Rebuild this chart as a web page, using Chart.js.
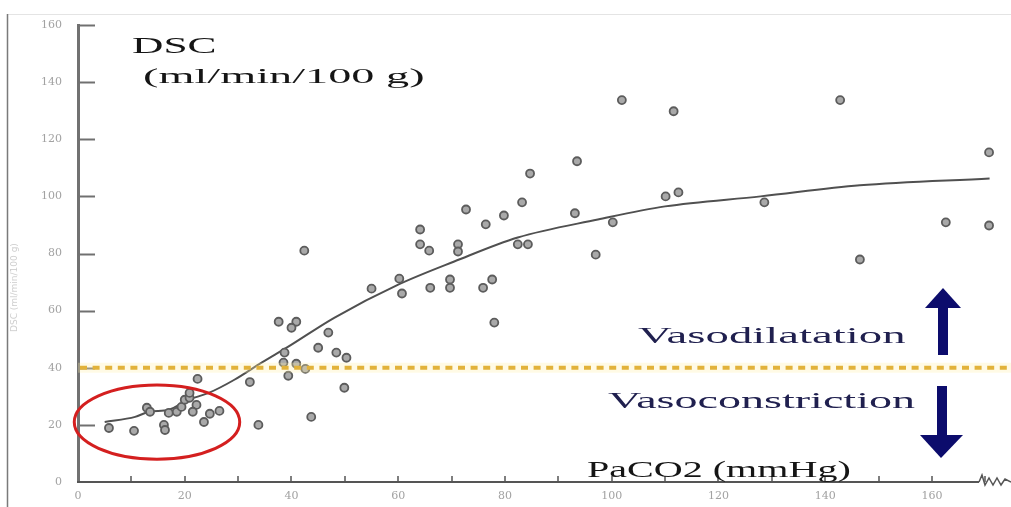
<!DOCTYPE html>
<html lang="fr">
<head>
  <meta charset="UTF-8" />
  <title>DSC selon PaCO2</title>
  <script src="https://cdn.jsdelivr.net/npm/chart.js"></script>
  <style>
    body { margin: 0; background: #fff; }
    #wrap { position: relative; width: 1011px; height: 507px; overflow: hidden; background: #fff; }
    #wrap canvas { position: absolute; left: 0; top: 0; }
    .lbl {
      position: absolute;
      font-family: 'Liberation Serif', 'DejaVu Serif', serif;
      line-height: 1;
      white-space: nowrap;
      transform-origin: 0 0;
    }
    .titre { color: #151515; }
    .vaso { color: #20204f; font-size: 24px; }
    .ytitle {
      position: absolute; left: 9px; top: 332px;
      font-family: 'DejaVu Sans', sans-serif; font-size: 9px; color: #cfcfcf;
      transform: rotate(-90deg); transform-origin: 0 0; white-space: nowrap;
    }
  </style>
</head>
<body>
<div id="wrap">
  <canvas id="graphe" width="1011" height="507"></canvas>
  <div class="lbl titre" style="left:132px; top:34px; font-size:23px;" data-w="85">DSC</div>
  <div class="lbl titre" style="left:143px; top:65px; font-size:22px;" data-w="282">(ml/min/100 g)</div>
  <div class="lbl vaso" style="left:638px; top:323px;" data-w="267">Vasodilatation</div>
  <div class="lbl vaso" style="left:608px; top:388px;" data-w="307">Vasoconstriction</div>
  <div class="lbl titre" style="left:587px; top:458px; font-size:23px;" data-w="263">PaCO2 (mmHg)</div>
  <div class="ytitle">DSC (ml/min/100 g)</div>
</div>

<script>
// mesures (PaCO2 en mmHg, DSC en ml/min/100 g)
const pacoX = [101.9, 111.6, 142.8, 93.5, 170.7, 84.7, 110.1, 112.5, 72.7, 83.2,
               79.8, 76.4, 93.1, 100.2, 128.6, 162.6, 170.7, 64.1, 64.1, 65.8,
               71.2, 71.2, 82.4, 84.3, 97, 146.5, 42.4, 60.2, 55, 60.7,
               66, 69.7, 69.7, 75.9, 77.6, 78, 37.6, 40.9, 40, 46.9,
               45, 48.4, 50.3, 38.7, 38.5, 40.9, 42.6, 39.4, 32.2, 49.9,
               22.4, 43.7, 33.8, 5.8, 10.5, 16.1, 16.3, 12.9, 13.5, 17,
               18.5, 19.4, 20, 20.9, 20.9, 22.2, 21.5, 23.6, 24.7, 26.5];
const dscY = [133.7, 129.8, 133.7, 112.3, 115.4, 108, 100, 101.4, 95.4, 97.9,
              93.3, 90.2, 94.1, 90.9, 97.9, 90.9, 89.8, 88.4, 83.2, 81,
              83.2, 80.7, 83.2, 83.2, 79.6, 77.9, 81, 71.2, 67.7, 66,
              68, 70.9, 68, 68, 70.9, 55.8, 56.1, 56.1, 54, 52.3,
              47, 45.3, 43.5, 45.3, 41.8, 41.4, 39.6, 37.2, 35, 33,
              36.1, 22.8, 20, 18.9, 17.9, 20, 18.2, 26, 24.6, 24.2,
              24.6, 26.3, 28.8, 29.5, 31.2, 27, 24.6, 21, 23.9, 24.9];

// courbe d'ajustement
const curveX = [5, 10.7, 13.3, 17, 20.7, 24.5, 29.3, 34.4, 39.4, 48, 60, 70.5, 82.4, 97.4, 110, 127.9, 146.5, 170.8];
const curveY = [21, 22.8, 24.6, 25.3, 28.8, 31.2, 35.8, 41.8, 47.4, 57.5, 69.1, 77.2, 85.6, 91.9, 96.5, 100, 103.9, 106.3];

// seuil vasodilatation / vasoconstriction
const seuil = 40;

// graduations
const xStep = 10;
const xLabelStep = 20;
const yStep = 20;
const xMax = 172;
const yMax = 160;

// zone entourée en rouge (centre et demi-axes en unités des axes)
const zone = { x: 14.8, y: 21, rx: 15.5, ry: 13 };

const decor = {
  id: 'decor',
  beforeDraw(chart) {
    const ctx = chart.ctx;
    ctx.save();
    ctx.strokeStyle = '#e4e4e4';
    ctx.lineWidth = 1;
    ctx.beginPath(); ctx.moveTo(7, 14.5); ctx.lineTo(1011, 14.5); ctx.stroke();
    ctx.strokeStyle = '#7a7a7a';
    ctx.lineWidth = 1.5;
    ctx.beginPath(); ctx.moveTo(7.5, 14); ctx.lineTo(7.5, 507); ctx.stroke();
    ctx.restore();
  },
  afterDraw(chart) {
    const ctx = chart.ctx;
    const xs = chart.scales.x, ys = chart.scales.y;
    const area = chart.chartArea;
    ctx.save();

    // graduations intérieures
    ctx.strokeStyle = '#707070';
    ctx.lineWidth = 2;
    ys.ticks.forEach(t => {
      if (t.value === 0) return;
      const py = Math.round(ys.getPixelForValue(t.value)) + 0.5;
      ctx.beginPath(); ctx.moveTo(area.left, py); ctx.lineTo(area.left + 17, py); ctx.stroke();
    });
    ctx.strokeStyle = '#555';
    ctx.lineWidth = 1.5;
    xs.ticks.forEach(t => {
      if (t.value === 0) return;
      const px = Math.round(xs.getPixelForValue(t.value));
      ctx.beginPath(); ctx.moveTo(px, area.bottom); ctx.lineTo(px, area.bottom - 6); ctx.stroke();
    });

    // axe horizontal avec rupture
    const b = area.bottom;
    const end = 979;
    ctx.lineWidth = 2;
    ctx.beginPath();
    ctx.moveTo(area.left - 1, b);
    ctx.lineTo(end, b);
    ctx.stroke();
    ctx.lineWidth = 1.5;
    ctx.beginPath();
    ctx.moveTo(end, b);
    ctx.lineTo(end + 3, b - 7);
    ctx.lineTo(end + 6, b + 3);
    ctx.lineTo(end + 10, b - 4);
    ctx.lineTo(end + 14, b + 3);
    ctx.lineTo(end + 18, b - 4);
    ctx.lineTo(end + 22, b + 3);
    ctx.lineTo(end + 26, b - 3);
    ctx.lineTo(1011, b);
    ctx.stroke();

    // ligne du seuil
    const sy = ys.getPixelForValue(seuil);
    ctx.strokeStyle = 'rgba(255, 238, 170, 0.3)';
    ctx.lineWidth = 10;
    ctx.beginPath(); ctx.moveTo(area.left, sy); ctx.lineTo(1011, sy); ctx.stroke();
    ctx.strokeStyle = '#e2b23a';
    ctx.lineWidth = 4;
    ctx.setLineDash([7, 5.6]);
    ctx.beginPath(); ctx.moveTo(area.left + 2, sy); ctx.lineTo(1011, sy); ctx.stroke();
    ctx.setLineDash([]);

    // ellipse rouge
    const cx = xs.getPixelForValue(zone.x), cy = ys.getPixelForValue(zone.y);
    const rx = xs.getPixelForValue(zone.x + zone.rx) - cx;
    const ry = cy - ys.getPixelForValue(zone.y + zone.ry);
    ctx.strokeStyle = '#d41f1f';
    ctx.lineWidth = 3;
    ctx.beginPath(); ctx.ellipse(cx, cy, rx, ry, 0, 0, Math.PI * 2); ctx.stroke();

    // flèches
    ctx.fillStyle = '#0c0c6c';
    ctx.fillRect(938, 306, 10, 49);
    ctx.beginPath(); ctx.moveTo(925, 308); ctx.lineTo(961, 308); ctx.lineTo(943, 288); ctx.closePath(); ctx.fill();
    ctx.fillRect(937, 386, 10, 51);
    ctx.beginPath(); ctx.moveTo(920, 435); ctx.lineTo(963, 435); ctx.lineTo(941, 458); ctx.closePath(); ctx.fill();

    ctx.restore();
  }
};

new Chart(document.getElementById('graphe'), {
  type: 'scatter',
  data: {
    datasets: [
      {
        type: 'line',
        label: 'Ajustement',
        data: curveX.map((x, i) => ({ x, y: curveY[i] })),
        borderColor: '#505050',
        borderWidth: 2,
        pointRadius: 0,
        fill: false,
        cubicInterpolationMode: 'monotone',
        clip: false,
        order: 2
      },
      {
        label: 'DSC',
        data: pacoX.map((x, i) => ({ x, y: dscY[i] })),
        backgroundColor: '#a9a9a9',
        borderColor: '#5c5c5c',
        borderWidth: 1.8,
        pointRadius: 4,
        clip: false,
        order: 1
      }
    ]
  },
  options: {
    responsive: false,
    animation: false,
    layout: { padding: { top: 25, right: 15, bottom: 0, left: 0 } },
    plugins: { legend: { display: false }, tooltip: { enabled: false } },
    scales: {
      x: {
        type: 'linear',
        min: 0,
        max: xMax,
        afterFit: s => { s.height = 25; },
        grid: { display: false, drawTicks: false },
        border: { display: false },
        ticks: {
          stepSize: xStep,
          includeBounds: false,
          autoSkip: false,
          maxRotation: 0,
          padding: 8,
          color: '#a2a2a2',
          font: { family: 'DejaVu Serif', size: 11 },
          callback: v => (v % xLabelStep === 0 ? v : '')
        }
      },
      y: {
        min: 0,
        max: yMax,
        afterFit: s => { s.width = 78; },
        grid: { display: false, drawTicks: false },
        border: { display: true, color: '#717171', width: 3 },
        ticks: {
          stepSize: yStep,
          padding: 16,
          color: '#a2a2a2',
          font: { family: 'DejaVu Serif', size: 11 }
        }
      }
    }
  },
  plugins: [decor]
});

// étirement horizontal des textes comme sur l'original
document.querySelectorAll('.lbl').forEach(el => {
  const w = parseFloat(el.dataset.w);
  el.style.transform = 'scaleX(' + (w / el.offsetWidth).toFixed(3) + ')';
});
</script>
</body>
</html>
